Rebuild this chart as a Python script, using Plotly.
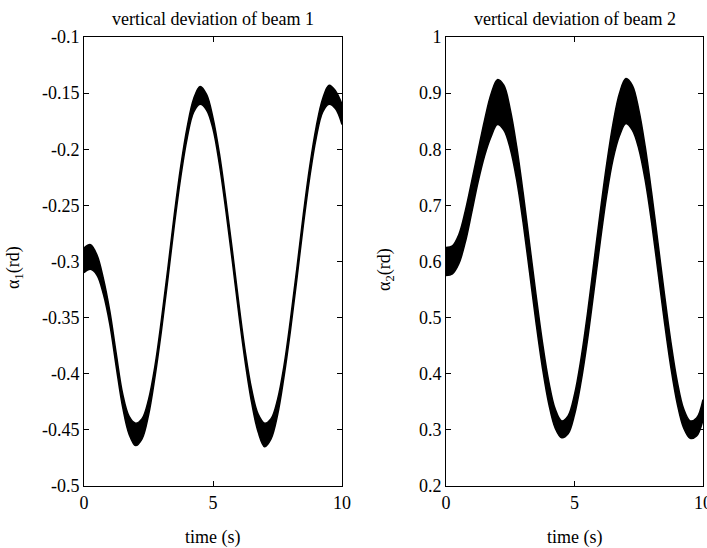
import plotly.graph_objects as go

# time samples (s)
time_s = [0, 0.25, 0.5, 0.75, 1.0, 1.25, 1.5, 1.75, 2.0, 2.25, 2.5, 2.75, 3.0, 3.25,
          3.5, 3.75, 4.0, 4.25, 4.5, 4.75, 5.0, 5.25, 5.5, 5.75, 6.0, 6.25, 6.5, 6.75,
          7.0, 7.25, 7.5, 7.75, 8.0, 8.25, 8.5, 8.75, 9.0, 9.25, 9.5, 9.75, 10.0]

# beam 1: upper / lower edges of the bundle of trajectories (rd)
alpha1_upper = [-0.288, -0.285, -0.294, -0.315, -0.344, -0.382, -0.418, -0.438, -0.444,
                -0.440, -0.423, -0.393, -0.352, -0.306, -0.258, -0.215, -0.180, -0.155,
                -0.144, -0.151, -0.172, -0.204, -0.245, -0.290, -0.337, -0.380, -0.414,
                -0.436, -0.444, -0.440, -0.423, -0.393, -0.352, -0.306, -0.258, -0.215,
                -0.180, -0.155, -0.143, -0.148, -0.160]
alpha1_lower = [-0.310, -0.307, -0.312, -0.329, -0.356, -0.394, -0.430, -0.454, -0.464,
                -0.458, -0.437, -0.403, -0.362, -0.316, -0.268, -0.225, -0.190, -0.167,
                -0.160, -0.165, -0.182, -0.214, -0.255, -0.300, -0.347, -0.390, -0.426,
                -0.452, -0.465, -0.458, -0.437, -0.403, -0.362, -0.316, -0.268, -0.225,
                -0.190, -0.167, -0.160, -0.164, -0.178]

# beam 2: upper / lower edges of the bundle of trajectories (rd)
alpha2_upper = [0.625, 0.628, 0.648, 0.690, 0.743, 0.798, 0.852, 0.898, 0.924, 0.914,
                0.871, 0.805, 0.723, 0.633, 0.542, 0.457, 0.386, 0.337, 0.316, 0.325,
                0.363, 0.426, 0.506, 0.597, 0.688, 0.773, 0.846, 0.900, 0.926, 0.914,
                0.871, 0.805, 0.723, 0.633, 0.542, 0.457, 0.386, 0.337, 0.316, 0.321,
                0.354]
alpha2_lower = [0.575, 0.578, 0.596, 0.634, 0.687, 0.742, 0.788, 0.822, 0.844, 0.834,
                0.801, 0.745, 0.669, 0.581, 0.492, 0.411, 0.346, 0.303, 0.286, 0.293,
                0.327, 0.384, 0.458, 0.545, 0.634, 0.717, 0.782, 0.824, 0.846, 0.834,
                0.801, 0.745, 0.669, 0.581, 0.492, 0.411, 0.346, 0.303, 0.285, 0.289,
                0.318]

x_ticks = [0, 5, 10]
x_ticktext = ["0", "5", "10"]
y1_ticks = [-0.1, -0.15, -0.2, -0.25, -0.3, -0.35, -0.4, -0.45, -0.5]
y1_ticktext = ["-0.1", "-0.15", "-0.2", "-0.25", "-0.3", "-0.35", "-0.4", "-0.45", "-0.5"]
y2_ticks = [1.0, 0.9, 0.8, 0.7, 0.6, 0.5, 0.4, 0.3, 0.2]
y2_ticktext = ["1", "0.9", "0.8", "0.7", "0.6", "0.5", "0.4", "0.3", "0.2"]

W, H = 707, 548
FONT = "Liberation Serif"

fig = go.Figure()

def band(xa, ya, lower, upper):
    fig.add_trace(go.Scatter(x=time_s, y=lower, mode="lines", xaxis=xa, yaxis=ya,
                             line=dict(color="black", width=1.5, shape="spline"),
                             showlegend=False, hoverinfo="skip"))
    fig.add_trace(go.Scatter(x=time_s, y=upper, mode="lines", xaxis=xa, yaxis=ya,
                             fill="tonexty", fillcolor="black",
                             line=dict(color="black", width=1.5, shape="spline"),
                             showlegend=False, hoverinfo="skip"))

band("x", "y", alpha1_lower, alpha1_upper)
band("x2", "y2", alpha2_lower, alpha2_upper)

axis_common = dict(showline=True, linecolor="black", linewidth=1, mirror="ticks",
                   ticks="inside", ticklen=5, tickcolor="black", showgrid=False,
                   zeroline=False, automargin=False, ticklabeloverflow="allow",
                   tickfont=dict(family=FONT, size=18, color="black"))

ytop, ybot = 37, 486
ydom = [1 - ybot / H, 1 - ytop / H]

fig.update_layout(
    width=W, height=H,
    margin=dict(l=0, r=0, t=0, b=0),
    paper_bgcolor="white", plot_bgcolor="white",
    xaxis=dict(domain=[84 / W, 342 / W], range=[0, 10], tickvals=x_ticks,
               ticktext=x_ticktext, anchor="y", **axis_common),
    yaxis=dict(domain=ydom, range=[-0.5, -0.1], tickvals=y1_ticks,
               ticktext=y1_ticktext, anchor="x", **axis_common),
    xaxis2=dict(domain=[446 / W, 703 / W], range=[0, 10], tickvals=x_ticks,
                ticktext=x_ticktext, anchor="y2", **axis_common),
    yaxis2=dict(domain=ydom, range=[0.2, 1.0], tickvals=y2_ticks,
                ticktext=y2_ticktext, anchor="x2", **axis_common),
)

def ann(text, px, py, size=18, angle=0):
    fig.add_annotation(text=text, x=px / W, y=1 - py / H, xref="paper", yref="paper",
                       showarrow=False, textangle=angle, xanchor="center", yanchor="middle",
                       font=dict(family=FONT, size=size, color="black"))

ann("vertical deviation of beam 1", 213, 19)
ann("vertical deviation of beam 2", 575, 19)
ann("time (s)", 213, 537)
ann("time (s)", 575, 537)
ann("α<sub>1</sub>(rd)", 14, 268, angle=-90)
ann("α<sub>2</sub>(rd)", 385, 270, angle=-90)

fig.write_html("out.html", config={"displayModeBar": False},
               post_script="document.body.style.margin='0';document.body.style.overflow='hidden';")
